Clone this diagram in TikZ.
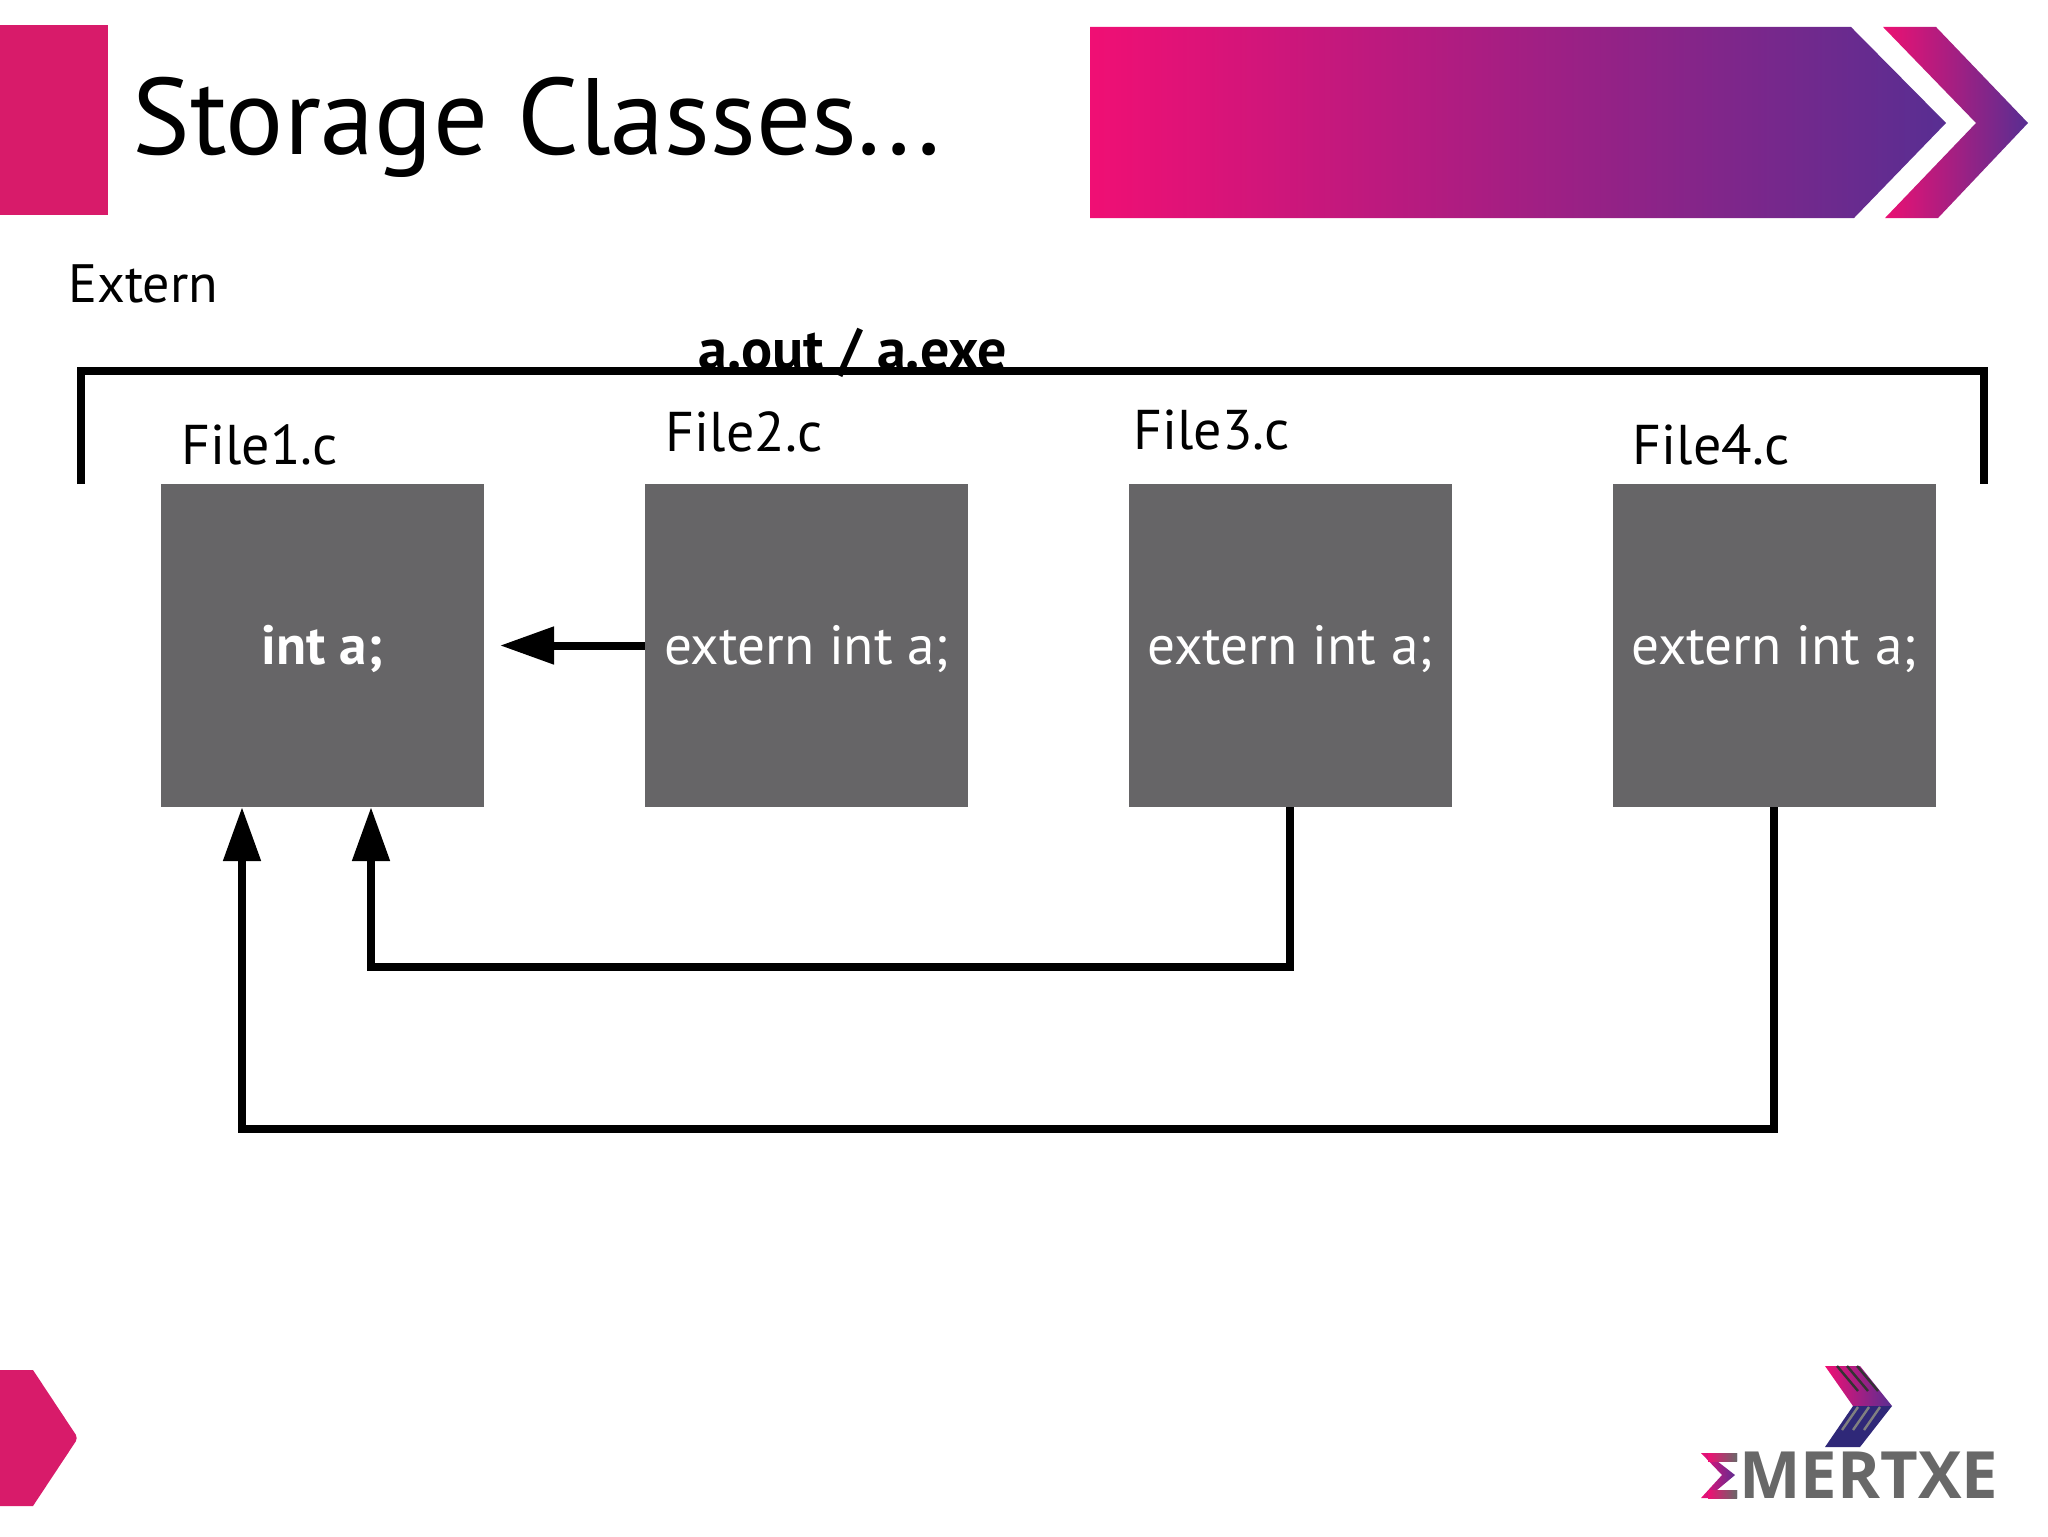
\documentclass[tikz,border=0pt]{standalone}
\usepackage{fontspec}
\setmainfont{PT Sans}
\newfontfamily\logofont{Open Sans}
\usetikzlibrary{arrows.meta,positioning}
\definecolor{brandpink}{HTML}{D81B6A}
\definecolor{brandhot}{HTML}{F00F74}
\definecolor{brandmid}{HTML}{B31C84}
\definecolor{brandblue}{HTML}{582E92}
\definecolor{filegray}{HTML}{666567}
\definecolor{logogray}{HTML}{686868}
\definecolor{logonavy}{HTML}{2F2878}

\begin{document}
\begin{tikzpicture} [
  x = 0.5pt, y = -0.5pt,
  filebox/.style = { fill = filegray, text = white, inner sep = 0, minimum size = 161.5pt, text height = 24pt, text depth = 5pt, font = \fontsize{27.6}{32}\selectfont },
  filename/.style = { anchor = base west, inner sep = 0, font = \fontsize{28}{32}\selectfont },
  link/.style = { line width = 4pt, -{Triangle[length = 27pt, width = 18pt]} },
  wire/.style = { line width = 4pt }
  ]
  \useasboundingbox (0,0) rectangle (2048,1536);

  % header
  \fill[brandpink] (0,25) rectangle (108,215);
  \node[anchor = base west, inner sep = 0, font = \fontsize{54.3}{60}\selectfont] (title) at (132,155) {Storage Classes...};
  \shade[left color = brandhot, middle color = brandmid, right color = brandblue]
    (1090,27) -- (1851,27) -- (1946,123) -- (1854,218) -- (1090,218) -- cycle;
  \shade[left color = brandhot!85!brandpink, right color = brandblue]
    (1883,27) -- (1936,27) -- (2028,123) -- (1938,218) -- (1885,218) -- (1976,123) -- cycle;

  \node[filename, font = \fontsize{27}{32}\selectfont] (extern) at (68,302) {Extern};
  \node[filename, font = \fontsize{29}{32}\bfseries] (output) at (698,369) {a.out / a.exe};

  % the four files
  \node[filebox] (file1) at (322.5,645.5) {\textbf{int a;}};
  \node[filebox] (file2) at (806.5,645.5) {extern int a;};
  \node[filebox] (file3) at (1290,645.5) {extern int a;};
  \node[filebox] (file4) at (1774,645.5) {extern int a;};
  \node[filename] (name1) at (181,464) {File1.c};
  \node[filename] (name2) at (665.5,451) {File2.c};
  \node[filename] (name3) at (1133,449) {File3.c};
  \node[filename] (name4) at (1632.5,464) {File4.c};

  % bracket over the files
  \coordinate (left) at (81,484);
  \coordinate (right) at (1984,484);
  \draw[wire] (left) |- (right |- 0,371) -- (right);

  % links to file1
  \coordinate (hit2) at (500,645.5);
  \coordinate (hit3) at (371,807);
  \coordinate (hit4) at (242,807);
  \draw[link] (file2.west) -- (hit2);
  \draw[link] (file3.south) -- ++(0,160) -| (hit3);
  \draw[link] (file4.south) -- ++(0,322) -| (hit4);

  % footer
  \fill[brandpink] (-10,1370) -- (33,1370) [rounded corners = 2pt] -- (78,1438) [sharp corners] -- (33,1506) -- (-10,1506) -- cycle;

  % logo
  \shade[left color = brandhot, right color = brandblue] (1825,1366) -- (1860,1366) -- (1892,1406) -- (1853,1406) -- cycle;
  \fill[logonavy] (1853,1406) -- (1892,1406) -- (1860,1447) -- (1825,1447) -- cycle;
  \foreach \i in {0,1,2} {
    \draw[black!80, line width = 1.2pt] (1837+\i*10,1366) -- (1858+\i*10,1391);
    \draw[gray, line width = 1.2pt] (1858+\i*11,1407) -- (1842+\i*11,1430);
  }
  \shade[left color = brandhot, right color = brandblue] (1701,1453) -- (1737,1453) -- (1737,1461) -- (1717,1461) -- (1735,1475) -- (1717,1490) -- (1737,1490) -- (1737,1498) -- (1701,1498) -- (1722,1475) -- cycle;
  \shade[left color = brandhot, right color = logogray] (1708,1453) rectangle (1737,1461);
  \shade[left color = brandhot, right color = logogray] (1708,1490) rectangle (1737,1498);
  \node[anchor = base west, inner sep = 0, text = logogray, font = \logofont\fontsize{32.6}{36}\bfseries] (logo) at (1739,1498) {MERTXE};
\end{tikzpicture}
\end{document}
